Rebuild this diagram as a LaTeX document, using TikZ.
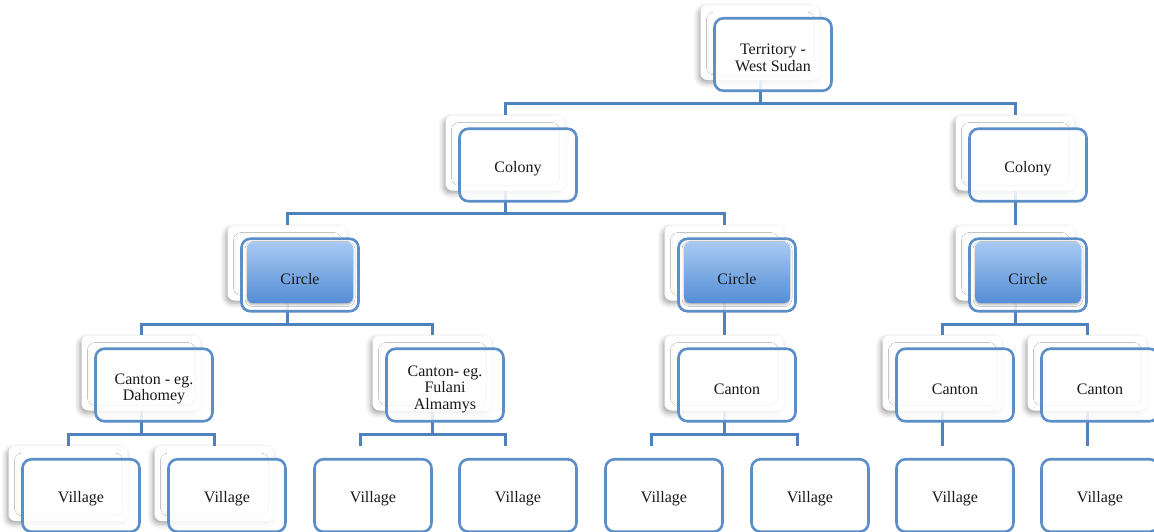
\documentclass[tikz,border=0pt]{standalone}
\usepackage{fontspec}
\setmainfont{Liberation Serif}
\usetikzlibrary{shadows.blur}
\definecolor{lineblue}{RGB}{79,129,189}
\definecolor{boxblue}{RGB}{92,142,200}
\definecolor{gtop}{RGB}{168,202,242}
\definecolor{gbot}{RGB}{84,141,214}
\tikzset{
 card/.style={fill=white, rounded corners=7pt, minimum width=119pt, minimum height=75pt, inner sep=0pt,
   blur shadow={shadow xshift=-2pt, shadow yshift=-3pt, shadow blur radius=5pt, shadow opacity=35}},
 subcard/.style={fill=white, rounded corners=6pt, minimum width=104pt, minimum height=59pt, inner sep=0pt,
   blur shadow={shadow xshift=0pt, shadow yshift=-1pt, shadow blur radius=2pt, shadow opacity=8}},
 box/.style={draw=boxblue, line width=2.6pt, rounded corners=9pt, minimum width=117pt, minimum height=72.5pt,
   fill=white, fill opacity=0.85, inner sep=0pt},
 grad/.style={rounded corners=6pt, minimum width=106pt, minimum height=61pt, inner sep=0pt,
   top color=gtop, bottom color=gbot,
   blur shadow={shadow xshift=0pt, shadow yshift=-1.5pt, shadow blur radius=2pt, shadow opacity=30}},
 conn/.style={draw=lineblue, line width=3pt},
 lbl/.style={font=\fontsize{16}{16.5}\selectfont, align=center, inner sep=0pt, text=black!90}
}
\newcommand\mkcard[3]{\node[card] (#1) at (#2,#3) {}; \node[subcard] (#1s) at (#2+0.5,#3) {};}
\begin{document}
\begin{tikzpicture}[x=1pt,y=-1pt]
\useasboundingbox (0,0) rectangle (1154,531);
% cards
\mkcard{cT}{760}{42.5}
\mkcard{cC1}{505}{153}
\mkcard{cC2}{1015}{153}
\mkcard{cR1}{287}{263}
\mkcard{cR2}{724}{263}
\mkcard{cR3}{1015}{263}
\mkcard{cK1}{141}{373}
\mkcard{cK2}{432}{373}
\mkcard{cK3}{724}{373}
\mkcard{cK4}{942}{373}
\mkcard{cK5}{1087}{373}
\mkcard{cV1}{68}{483.5}
\mkcard{cV2}{214}{483.5}
\coordinate (cV3) at (360,446);
\coordinate (cV4) at (505,446);
\coordinate (cV5) at (651,446);
\coordinate (cV6) at (797,446);
\coordinate (cV7) at (942,446);
\coordinate (cV8) at (1087,446);
% connectors
\draw[conn] (cT.south) -- ++(0,23) coordinate (bT) -| (cC1.north);
\draw[conn] (bT) -| (cC2.north);
\draw[conn] (cC1.south) -- ++(0,23) coordinate (bC1) -| (cR1.north);
\draw[conn] (bC1) -| (cR2.north);
\draw[conn] (cC2.south) -- (cR3.north);
\draw[conn] (cR1.south) -- ++(0,24) coordinate (bR1) -| (cK1.north);
\draw[conn] (bR1) -| (cK2.north);
\draw[conn] (cR2.south) -- (cK3.north);
\draw[conn] (cR3.south) -- ++(0,24) coordinate (bR3) -| (cK4.north);
\draw[conn] (bR3) -| (cK5.north);
\draw[conn] (cK1.south) -- ++(0,24) coordinate (bK1) -| (cV1.north);
\draw[conn] (bK1) -| (cV2.north);
\draw[conn] (cK2.south) -- ++(0,24) coordinate (bK2) -| (cV3);
\draw[conn] (bK2) -| (cV4);
\draw[conn] (cK3.south) -- ++(0,24) coordinate (bK3) -| (cV5);
\draw[conn] (bK3) -| (cV6);
\draw[conn] (cK4.south) -- (cV7);
\draw[conn] (cK5.south) -- (cV8);
% boxes
\node[box] (T) at (773,54.5) {};
\node[box] (C1) at (518,165) {};
\node[box] (C2) at (1028,165) {};
\node[box] (R1) at (300,275) {};
\node[box] (R2) at (737,275) {};
\node[box] (R3) at (1028,275) {};
\node[grad] (G1) at (300,272.5) {};
\node[grad] (G2) at (737,272.5) {};
\node[grad] (G3) at (1028,272.5) {};
\node[box] (K1) at (154,385) {};
\node[box] (K2) at (445,385) {};
\node[box] (K3) at (737,385) {};
\node[box] (K4) at (955,385) {};
\node[box] (K5) at (1100,385) {};
\node[box] (V1) at (81,495.5) {};
\node[box] (V2) at (227,495.5) {};
\node[box] (V3) at (373,495.5) {};
\node[box] (V4) at (518,495.5) {};
\node[box] (V5) at (664,495.5) {};
\node[box] (V6) at (810,495.5) {};
\node[box] (V7) at (955,495.5) {};
\node[box] (V8) at (1100,495.5) {};
% labels
\node[lbl] (tT) at (773,58) {Territory -\\West Sudan};
\node[lbl] (tC1) at (518,169) {Colony};
\node[lbl] (tC2) at (1028,169) {Colony};
\node[lbl] (tR1) at (300,279) {Circle};
\node[lbl] (tR2) at (737,279) {Circle};
\node[lbl] (tR3) at (1028,279) {Circle};
\node[lbl] (tK1) at (154,389) {Canton - eg.\\Dahomey};
\node[lbl] (tK2) at (445,389) {Canton- eg.\\Fulani\\Almamys};
\node[lbl] (tK3) at (737,389) {Canton};
\node[lbl] (tK4) at (955,389) {Canton};
\node[lbl] (tK5) at (1100,389) {Canton};
\node[lbl] (tV1) at (81,499) {Village};
\node[lbl] (tV2) at (227,499) {Village};
\node[lbl] (tV3) at (373,499) {Village};
\node[lbl] (tV4) at (518,499) {Village};
\node[lbl] (tV5) at (664,499) {Village};
\node[lbl] (tV6) at (810,499) {Village};
\node[lbl] (tV7) at (955,499) {Village};
\node[lbl] (tV8) at (1100,499) {Village};
\end{tikzpicture}
\end{document}
